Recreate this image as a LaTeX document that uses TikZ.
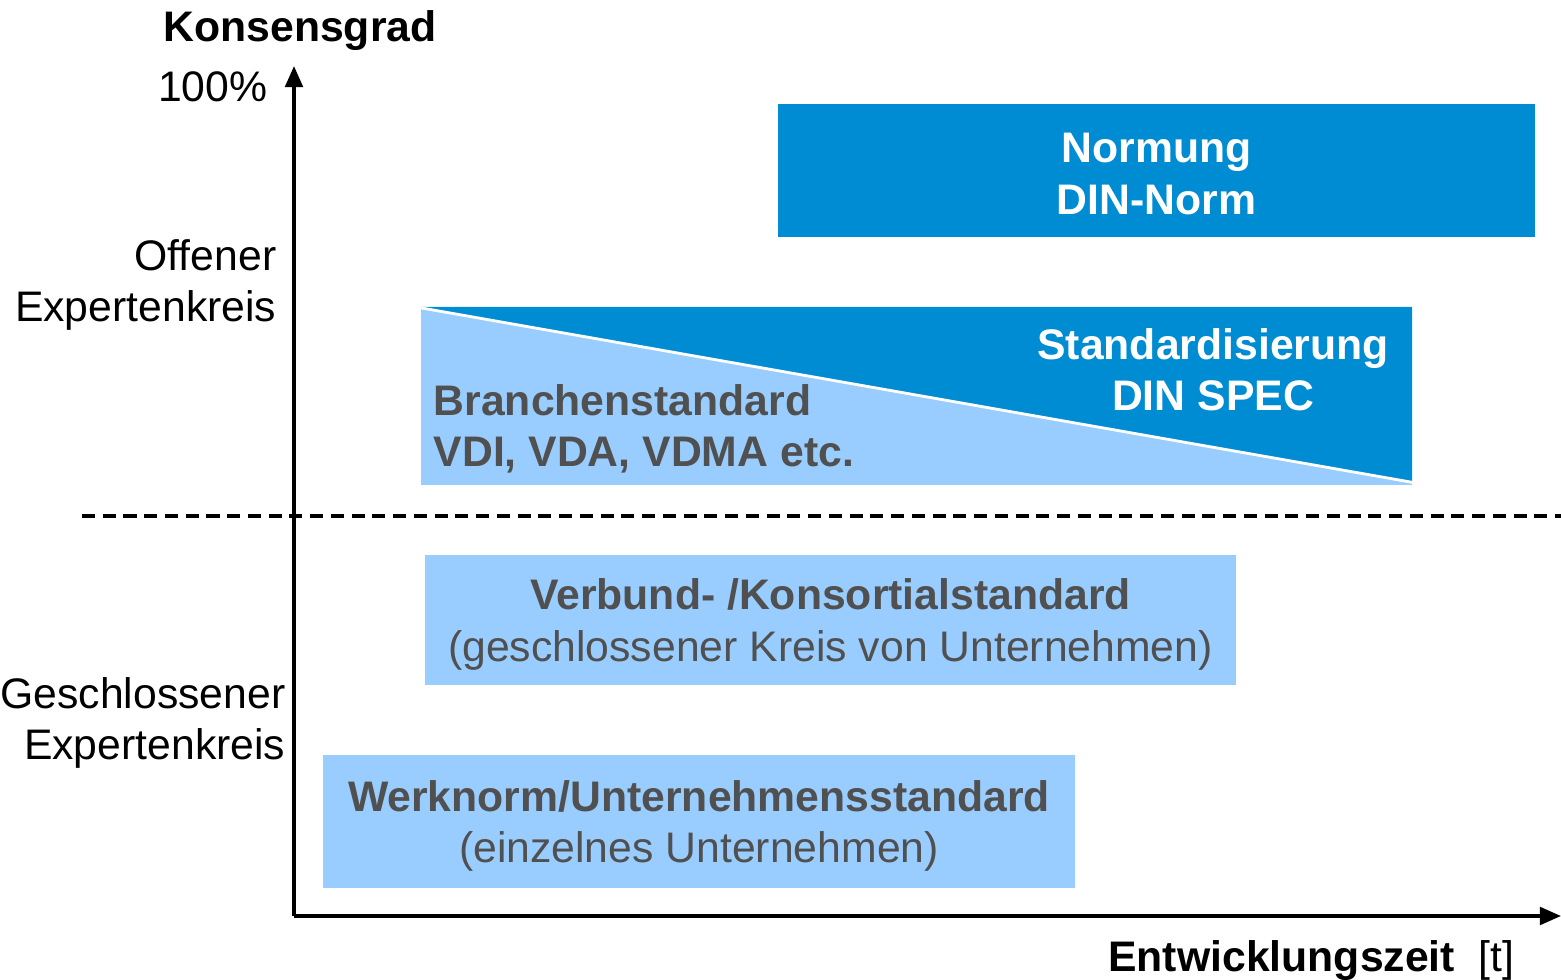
\documentclass[tikz,border=0pt,12pt]{standalone}
\usepackage{fontspec}
\setmainfont{Liberation Sans}
\usetikzlibrary{arrows.meta}
\definecolor{dunkel}{HTML}{008CD2}
\definecolor{hell}{HTML}{99CCFF}
\definecolor{grau}{HTML}{505050}
\tikzset{
  achse/.style={draw=black, line width=1pt, -{Triangle[length=6pt,width=5pt]}},
  grenze/.style={draw=black, line width=0.9pt, dash pattern=on 3.7pt off 2.2pt},
  blau/.style={fill=dunkel, inner sep=0pt},
  hellbox/.style={fill=hell, inner sep=0pt},
  weiss/.style={text=white, font=\bfseries, align=center, inner sep=0pt},
  grautext/.style={text=grau, align=center, inner sep=0pt},
  lab/.style={text=black, inner sep=0pt},
}
\begin{document}
\begin{tikzpicture}[x=0.01cm, y=-0.01cm]
  \fontsize{12.15}{14.6}\selectfont
  \useasboundingbox (0,0) rectangle (1561,980);
  % Achsen
  \coordinate (O) at (294,916);
  \coordinate (Y) at (294,66);
  \coordinate (X) at (1561,916);
  \coordinate (DL) at (82,516);
  \coordinate (DR) at (1561,516);
  \draw[grenze] (DL) -- (DR);
  \draw[achse] (O) -- (Y);
  \draw[achse] (O) -- (X);
  \node[lab, font=\bfseries] (konsens) at (300,31) {Konsensgrad};
  \node[lab, anchor=east] (hundert) at (268,87) {100\%};
  \node[lab, anchor=east, align=right] (offen) at (277,285) {Offener\\Expertenkreis};
  \node[lab, anchor=east, align=right] (geschl) at (286,723) {Geschlossener\\Expertenkreis};
  \node[lab, anchor=east] (zeit) at (1515,961) {{\bfseries Entwicklungszeit}~~[t]};
  % geteilte Box
  \coordinate (S1) at (416,307);
  \coordinate (S2) at (1412,307);
  \coordinate (S3) at (1412,482);
  \coordinate (S4) at (1416,483);
  \coordinate (L1) at (421,308);
  \coordinate (L2) at (1412,485);
  \fill[hell] (L1) rectangle (L2);
  \fill[dunkel] (S1) -- (S2) -- (S3) -- cycle;
  \draw[white, line width=0.8pt] (S1) -- (S4);
  \node[weiss] (spec) at (1213,370) {Standardisierung\\DIN SPEC};
  \node[grautext, font=\bfseries, align=left, anchor=west] (branche) at (433,429) {Branchenstandard\\VDI, VDA, VDMA etc.};
  % Boxen
  \node[blau, minimum width=7.57cm, minimum height=1.33cm] (normung) at (1156.5,170.5) {};
  \node[weiss] at (1156.5,174) {Normung\\DIN-Norm};
  \node[hellbox, minimum width=8.11cm, minimum height=1.30cm] (verbund) at (830.5,620) {};
  \node[grautext] at (830.5,624.5) {{\bfseries Verbund- /Konsortialstandard}\\(geschlossener Kreis von Unternehmen)};
  \node[hellbox, minimum width=7.52cm, minimum height=1.33cm] (werk) at (699,821.5) {};
  \node[grautext] at (699,826) {{\bfseries Werknorm/Unternehmensstandard}\\(einzelnes Unternehmen)};
\end{tikzpicture}
\end{document}
